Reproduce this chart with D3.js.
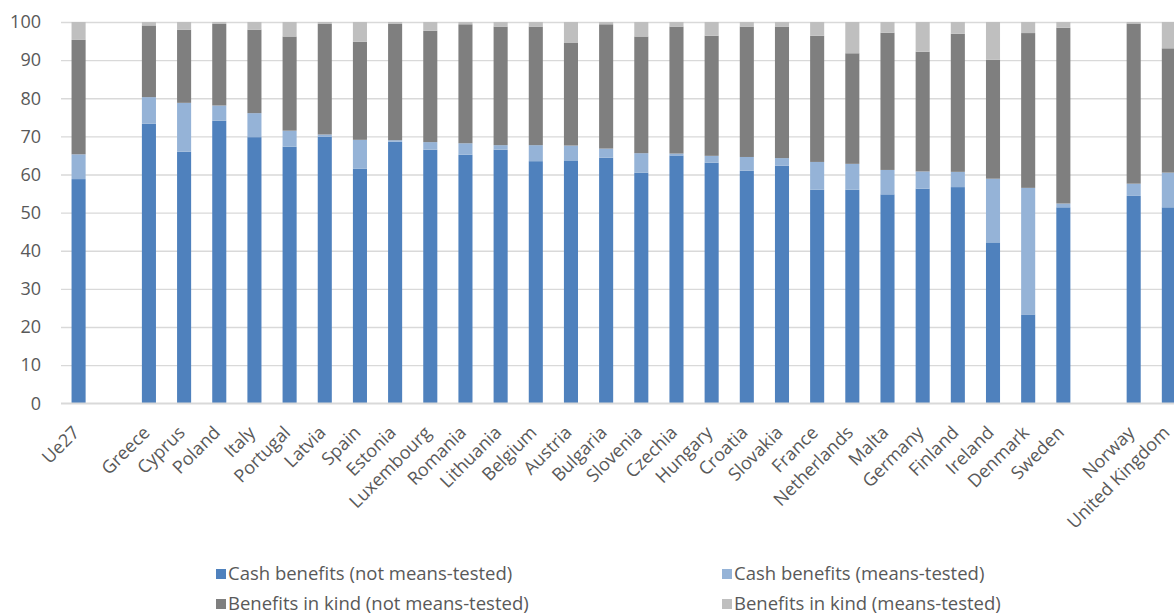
<!DOCTYPE html>
<html>
<head>
<meta charset="utf-8">
<script src="https://cdn.jsdelivr.net/npm/d3@7"></script>
<style>
  body { margin: 0; background: #ffffff; }
  svg { display: block; }
  text { font-family: "Open Sans", sans-serif; fill: #595959; }
</style>
</head>
<body>
<svg id="chart" width="1174" height="615"></svg>
<script>
// Categories in display order; empty strings are spacer slots between groups.
const categories = [
  "Ue27", "",
  "Greece", "Cyprus", "Poland", "Italy", "Portugal", "Latvia", "Spain", "Estonia",
  "Luxembourg", "Romania", "Lithuania", "Belgium", "Austria", "Bulgaria", "Slovenia",
  "Czechia", "Hungary", "Croatia", "Slovakia", "France", "Netherlands", "Malta",
  "Germany", "Finland", "Ireland", "Denmark", "Sweden", "",
  "Norway", "United Kingdom"
];

// Shares of social protection benefits (%), one value per category (null = spacer).
const cashNotMeansTested = [
  58.8, null,
  73.3, 66.0, 74.1, 69.8, 67.3, 69.9, 61.5, 68.6,
  66.5, 65.2, 66.5, 63.5, 63.7, 64.4, 60.5,
  65.0, 63.1, 61.0, 62.3, 56.0, 56.0, 54.8,
  56.3, 56.7, 42.2, 23.3, 51.4, null,
  54.4, 51.4
];
const cashMeansTested = [
  6.5, null,
  7.0, 12.8, 4.0, 6.3, 4.2, 0.6, 7.6, 0.4,
  2.0, 3.0, 1.2, 4.2, 3.9, 2.4, 5.1,
  0.5, 1.8, 3.6, 2.0, 7.3, 6.8, 6.4,
  4.5, 4.0, 16.7, 33.2, 1.0, null,
  3.2, 9.1
];
const kindNotMeansTested = [
  30.0, null,
  18.8, 19.2, 21.4, 21.9, 24.7, 29.0, 25.7, 30.5,
  29.2, 31.2, 31.1, 31.1, 26.9, 32.6, 30.6,
  33.3, 31.5, 34.2, 34.5, 33.1, 29.0, 36.0,
  31.4, 36.2, 31.2, 40.6, 46.1, null,
  42.0, 32.6
];
const kindMeansTested = [
  4.7, null,
  0.9, 2.0, 0.5, 2.0, 3.8, 0.5, 5.2, 0.5,
  2.3, 0.6, 1.2, 1.2, 5.5, 0.6, 3.8,
  1.2, 3.6, 1.2, 1.2, 3.6, 8.2, 2.8,
  7.8, 3.1, 9.9, 2.9, 1.5, null,
  0.4, 6.9
];

const seriesKeys = ["cashNMT", "cashMT", "kindNMT", "kindMT"];
const seriesLabels = [
  "Cash benefits (not means-tested)",
  "Cash benefits (means-tested)",
  "Benefits in kind (not means-tested)",
  "Benefits in kind (means-tested)"
];
const seriesColors = ["#4f81bd", "#95b3d7", "#7f7f7f", "#bfbfbf"];
const yTicks = [0, 10, 20, 30, 40, 50, 60, 70, 80, 90, 100];

const width = 1174, height = 615;
const plotLeft = 61, plotTop = 22, plotBottom = 403.3;
const step = 35.17;

const svg = d3.select("#chart");

const x = d3.scaleBand()
  .domain(d3.range(categories.length))
  .range([plotLeft, plotLeft + step * categories.length])
  .paddingInner(0.6)
  .paddingOuter(0.3);

const y = d3.scaleLinear().domain([0, 100]).range([plotBottom, plotTop]);

// Rows for stacking (spacer slots skipped)
const rows = categories.map((c, i) => ({
  idx: i,
  cashNMT: cashNotMeansTested[i],
  cashMT: cashMeansTested[i],
  kindNMT: kindNotMeansTested[i],
  kindMT: kindMeansTested[i]
})).filter(r => categories[r.idx] !== "");

const stacked = d3.stack().keys(seriesKeys)(rows);

// Horizontal gridlines with value labels
const yAxis = d3.axisLeft(y)
  .tickValues(yTicks)
  .tickSize(-(width - plotLeft + 20))
  .tickPadding(20)
  .tickFormat(d3.format("d"));

const gy = svg.append("g")
  .attr("transform", `translate(${plotLeft},0)`)
  .call(yAxis);
gy.select(".domain").remove();
gy.selectAll(".tick line").attr("stroke", "#d9d9d9").attr("stroke-width", 1.4);
gy.selectAll(".tick text")
  .attr("font-size", "18px")
  .style("font-family", "'Open Sans', sans-serif")
  .attr("fill", "#595959");

// Stacked bars
svg.append("g")
  .selectAll("g")
  .data(stacked)
  .join("g")
  .attr("fill", (d, i) => seriesColors[i])
  .selectAll("rect")
  .data(d => d)
  .join("rect")
  .attr("x", d => x(d.data.idx))
  .attr("width", x.bandwidth())
  .attr("y", d => y(d[1]))
  .attr("height", d => y(d[0]) - y(d[1]));

// Category axis along the zero line
const xAxis = d3.axisBottom(x)
  .tickSize(0)
  .tickFormat(i => categories[i]);

const gx = svg.append("g")
  .attr("transform", `translate(0,${plotBottom})`)
  .call(xAxis);
gx.select(".domain")
  .attr("d", `M${plotLeft},0H${width + 20}`)
  .attr("stroke", "#d9d9d9")
  .attr("stroke-width", 1.4);
gx.selectAll(".tick text")
  .attr("x", 0)
  .attr("y", 0)
  .attr("dy", "0.35em")
  .attr("text-anchor", "end")
  .attr("transform", "translate(-2.5,26) rotate(-45)")
  .attr("font-size", "18px")
  .style("font-family", "'Open Sans', sans-serif")
  .attr("fill", "#595959");

// Legend: two columns, two rows
const legendCols = [216, 722];
const legendRows = [574, 604];
const legend = svg.append("g");
seriesLabels.forEach((label, i) => {
  const lx = legendCols[i % 2];
  const ly = legendRows[Math.floor(i / 2)];
  legend.append("rect")
    .attr("x", lx)
    .attr("y", ly - 5)
    .attr("width", 10)
    .attr("height", 10)
    .attr("fill", seriesColors[i]);
  legend.append("text")
    .attr("x", lx + 12)
    .attr("y", ly)
    .attr("dy", "0.35em")
    .attr("font-size", "18.5px")
    .text(label);
});
</script>
</body>
</html>
